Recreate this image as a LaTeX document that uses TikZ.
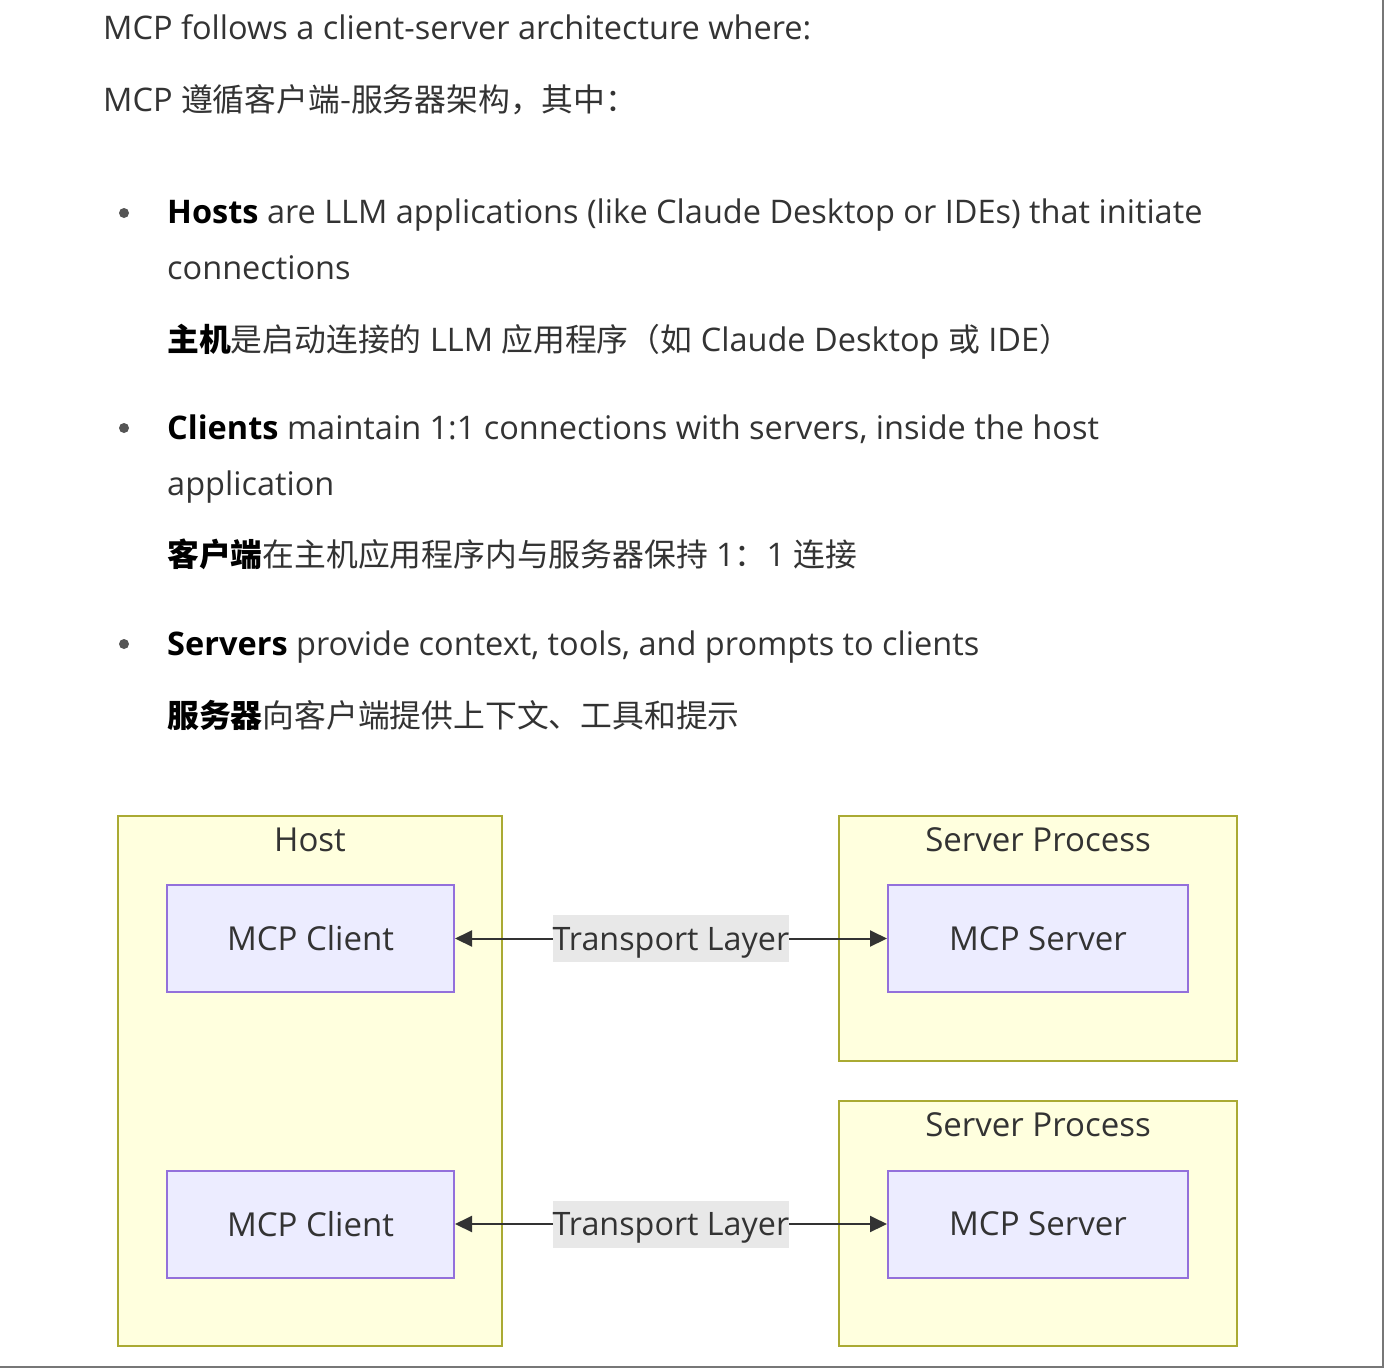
\documentclass[tikz,border=0pt]{standalone}
\usepackage{fontspec}
\setmainfont{Open Sans}
\newfontfamily\cjkraw{Noto Sans CJK SC}
\newcommand{\cjk}{\cjkraw\fontsize{31.8}{36}\selectfont}
\usetikzlibrary{arrows.meta}

\definecolor{bodytext}{HTML}{333333}
\definecolor{dotgray}{HTML}{555555}
\definecolor{clusterfill}{HTML}{FFFFDE}
\definecolor{clusterline}{HTML}{AAAA33}
\definecolor{procfill}{HTML}{ECECFF}
\definecolor{procline}{HTML}{9370DB}
\definecolor{labelfill}{HTML}{E8E8E8}
\definecolor{edgegray}{HTML}{777777}

\newcommand{\bodyfont}{\fontsize{32.5}{36}\selectfont}
\newcommand{\chartfont}{\fontsize{33}{38}\selectfont}
\newcommand{\labelfont}{\fontsize{32.3}{38}\selectfont}

\tikzset{
  textline/.style={anchor=base west, inner sep=0pt, text=bodytext, font=\bodyfont},
  dot/.style={circle, fill=dotgray, inner sep=0pt, minimum size=10},
  cluster/.style={draw=clusterline, fill=clusterfill, line width=2pt, inner sep=0pt},
  clustertitle/.style={inner sep=0pt, text=bodytext, font=\chartfont},
  proc/.style={draw=procline, fill=procfill, line width=2pt, text=bodytext, font=\chartfont,
    minimum width=287, minimum height=107},
  sproc/.style={proc, minimum width=300},
  link/.style={line width=2pt, draw=bodytext,
    {Triangle[length=17pt,width=16pt]}-{Triangle[length=17pt,width=16pt]}},
  linklabel/.style={fill=labelfill, text=bodytext, font=\labelfont, inner xsep=0pt,
    text height=23pt, text depth=0pt, minimum height=47}
}

\begin{document}
\begin{tikzpicture}[x=1pt,y=-1pt]
\useasboundingbox (0,0) rectangle (1384,1368);
\fill[white] (0,0) rectangle (1384,1368);
\draw[edgegray, line width=2pt] (1382.5,0) -- (1382.5,1366.5) -- (0,1366.5);

% intro
\node (intro) [textline] at (103,39) {MCP follows a client-server architecture where:};
\node (introcn) [textline] at (103,111) {MCP {\cjk 遵循客户端-服务器架构，其中：}};

% hosts
\node (dot1) [dot] at (124,213) {};
\node (hosts) [textline] at (167,223) {\textbf{\color{black}Hosts} are LLM applications (like Claude Desktop or IDEs) that initiate};
\node (hosts2) [textline] at (167,279) {connections};
\node (hostscn) [textline] at (167,351) {{\cjk\textbf{\color{black}主机}是启动连接的} LLM {\cjk 应用程序（如} Claude Desktop {\cjk 或} IDE{\cjk ）}};

% clients
\node (dot2) [dot] at (124,428) {};
\node (clients) [textline] at (167,439) {\textbf{\color{black}Clients} maintain 1:1 connections with servers, inside the host};
\node (clients2) [textline] at (167,495) {application};
\node (clientscn) [textline] at (167,566) {{\cjk\textbf{\color{black}客户端}在主机应用程序内与服务器保持} 1{\cjk ：}1 {\cjk 连接}};

% servers
\node (dot3) [dot] at (124,644) {};
\node (servers) [textline] at (167,655) {\textbf{\color{black}Servers} provide context, tools, and prompts to clients};
\node (serverscn) [textline] at (167,727) {{\cjk\textbf{\color{black}服务器}向客户端提供上下文、工具和提示}};

% diagram
\node (host) [cluster, minimum width=384, minimum height=530] at (310,1081) {};
\node (hosttitle) [clustertitle] at (310,840) {Host};
\node (sp1) [cluster, minimum width=398, minimum height=245] at (1038,938.5) {};
\node (sp1title) [clustertitle] at (1038,840) {Server Process};
\node (sp2) [cluster, minimum width=398, minimum height=245] at (1038,1223.5) {};
\node (sp2title) [clustertitle] at (1038,1125) {Server Process};

\node (client1) [proc] at (310.5,938.5) {MCP Client};
\node (client2) [proc] at (310.5,1224) {MCP Client};
\node (server1) [sproc] at (1038,938.5) {MCP Server};
\node (server2) [sproc] at (1038,1224) {MCP Server};

\draw [link] (client1) -- node (tl1) [linklabel] {Transport Layer} (server1);
\draw [link] (client2) -- node (tl2) [linklabel] {Transport Layer} (server2);
\end{tikzpicture}
\end{document}
